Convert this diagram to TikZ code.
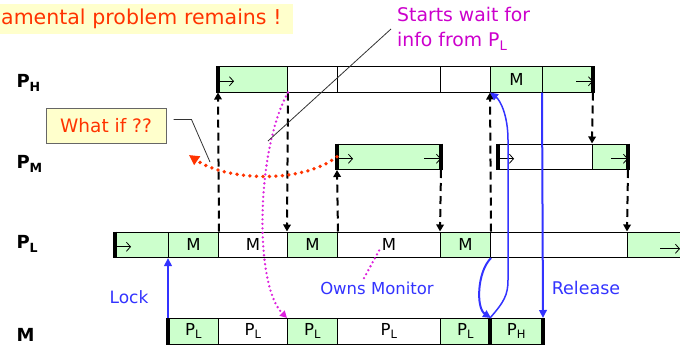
\documentclass[tikz,border=0pt]{standalone}
\usepackage{fontspec}
\setmainfont{DejaVu Sans}
\usetikzlibrary{arrows.meta}
\definecolor{MGreen}{HTML}{CCFFCC}
\definecolor{MYellow}{HTML}{FFFFCC}
\definecolor{MRed}{HTML}{FF3300}
\definecolor{MMagenta}{HTML}{CC00CC}
\definecolor{MDot}{HTML}{DD22DD}
\definecolor{MBlue}{HTML}{3333FF}

\begin{document}
\begin{tikzpicture}[
  x=1pt,y=-1pt,
  seg/.style={draw=black,line width=1pt,minimum height=25.5pt,inner sep=0pt,
    anchor=north west,font=\fontsize{16.5}{19}\selectfont},
  rowlab/.style={anchor=west,font=\bfseries\fontsize{18}{20}\selectfont},
  bluelab/.style={text=MBlue,font=\fontsize{16.5}{19}\selectfont},
  endmark/.style={line width=3.5pt},
  sarr/.style={-{Straight Barb[length=4pt,width=9pt]},line width=0.8pt},
  dasharr/.style={-{Triangle[length=7pt,width=7.5pt]},line width=2pt,
    dash pattern=on 8pt off 5pt},
  bluearr/.style={-{Triangle[length=8pt,width=7.5pt]},line width=2pt,color=MBlue},
  magdot/.style={-{Triangle[length=7pt,width=7pt]},line width=2.6pt,color=MDot,
    dash pattern=on 0pt off 4.5pt,line cap=round},
  reddot/.style={-{Triangle[length=10pt,width=10pt]},line width=3.8pt,color=MRed,
    dash pattern=on 0pt off 6.5pt,line cap=round},
  callout/.style={line width=0.8pt,color=black!80}
]
  \clip (0,0) rectangle (680,346);

  % rows of time slots
  \foreach \n/\xa/\xb/\f/\txt in {h1/218/287/MGreen/{},h2/287/337/white/{},
      h3/337/440/white/{},h4/440/490/white/{},h5/490/542/MGreen/M,h6/542/592/MGreen/{}}
    {\node[seg,fill=\f,minimum width=\xb-\xa] (\n) at (\xa,66) {\txt};}
  \foreach \n/\xa/\xb/\f in {m1/337/440/MGreen,m2/498/592/white,m3/592/627/MGreen}
    {\node[seg,fill=\f,minimum width=\xb-\xa] (\n) at (\xa,143.5) {};}
  \foreach \n/\xa/\xb/\f/\txt in {l1/115/168/MGreen/{},l2/168/218/MGreen/M,
      l3/218/287/white/M,l4/287/337/MGreen/M,l5/337/440/white/M,l6/440/490/MGreen/M,
      l7/490/627/white/{},l8/627/700/MGreen/{}}
    {\node[seg,fill=\f,minimum width=\xb-\xa] (\n) at (\xa,231.5) {\txt};}
  \foreach \n/\xa/\xb/\f/\txt in {k1/168/218/MGreen/{P\textsubscript{L}},
      k2/218/287/white/{P\textsubscript{L}},k3/287/337/MGreen/{P\textsubscript{L}},
      k4/337/440/white/{P\textsubscript{L}},k5/440/490/MGreen/{P\textsubscript{L}},
      k6/490/542/MGreen/{P\textsubscript{H}}}
    {\node[seg,fill=\f,minimum width=\xb-\xa] (\n) at (\xa,318) {\txt};}

  \foreach \n/\s in {h1/west,h6/east,m1/west,m1/east,m2/west,m3/east,l1/west,
      k1/west,k6/west,k6/east}
    {\draw[endmark] (\n.north \s) -- (\n.south \s);}
  \foreach \n in {h1,m1,m2,l1}
    {\draw[sarr] ([yshift=-2pt]\n.west) -- ++(16,0);}
  \foreach \n in {h6,m1,m3}
    {\draw[sarr] ([xshift=-17pt,yshift=-2pt]\n.east) -- ([yshift=-2pt]\n.east);}
  \draw[sarr] ([xshift=33pt,yshift=-4pt]l8.west) -- ++(20,0);

  \node[rowlab] (lh) at (13,83) {P\textsubscript{H}};
  \node[rowlab] (lm) at (13,164) {P\textsubscript{M}};
  \node[rowlab] (ll) at (13,244) {P\textsubscript{L}};
  \node[rowlab] (lk) at (13,335) {M};

  % hand-overs between processes
  \foreach \a/\b in {l2.north east/h1.south west,h1.south east/l4.north west,
      l4.north east/m1.south west,m1.south east/l6.north west,
      l6.north east/h5.south west,h6.south east/m3.north west,
      m3.south east/l8.north west}
    {\draw[dasharr] (\a) -- (\b);}

  \draw[bluearr] (k1.north west) -- (l2.south west);
  \draw[bluearr] (h6.south west) -- (k6.north east);
  \draw[bluearr] (l6.south east) .. controls (477,272) and (476,308) .. (k5.north east);
  \draw[bluearr,line width=1.5pt] (k6.north west) .. controls (504,302) and (508,295) .. (508,280)
    -- (508,140) .. controls (508,115) and (500,100) .. (h5.south west);
  \node[bluelab,font=\fontsize{17}{19}\selectfont] (lock) at (129,297) {Lock};
  \node[bluelab,font=\fontsize{17.5}{19}\selectfont] (rel) at (586,288) {Release};
  \node[bluelab] (owns) at (377,288) {Owns Monitor};
  \coordinate (ownsTip) at (381,247);
  \draw[magdot,-] ([xshift=-13pt]owns.north) -- (ownsTip);

  \draw[magdot] (h1.south east) .. controls (256,150) and (254,285) .. (k3.north west);

  % annotations
  \node[fill=MYellow,anchor=west,inner xsep=1pt,minimum height=30pt,text width=291pt,
    align=left,text=MRed,font=\fontsize{20.5}{24}\selectfont] (ttl) at (0,19)
    {amental problem remains !};
  \node[text=MMagenta,anchor=west,inner xsep=6pt,align=left,
    font=\fontsize{18.8}{25}\selectfont] (wait) at (391,29)
    {Starts wait for\\info from P\textsubscript{L}};
  \coordinate (waitTip) at (268,141);
  \draw[callout] (wait.west) -- (waitTip);

  \node[draw=black!60,line width=1pt,fill=MYellow,minimum width=120pt,minimum height=35pt,
    text=MRed,font=\fontsize{18.5}{21}\selectfont] (what) at (106,125.5) {What if ??};
  \coordinate (whatTip) at (189,155);
  \coordinate (whatPt) at (210,162);
  \draw[reddot] (m1.west) .. controls (300,185) and (225,180) .. (whatTip);
  \draw[callout] ([xshift=7pt,yshift=6pt]what.east) -- ++(18,0) -- (whatPt);
\end{tikzpicture}
\end{document}
